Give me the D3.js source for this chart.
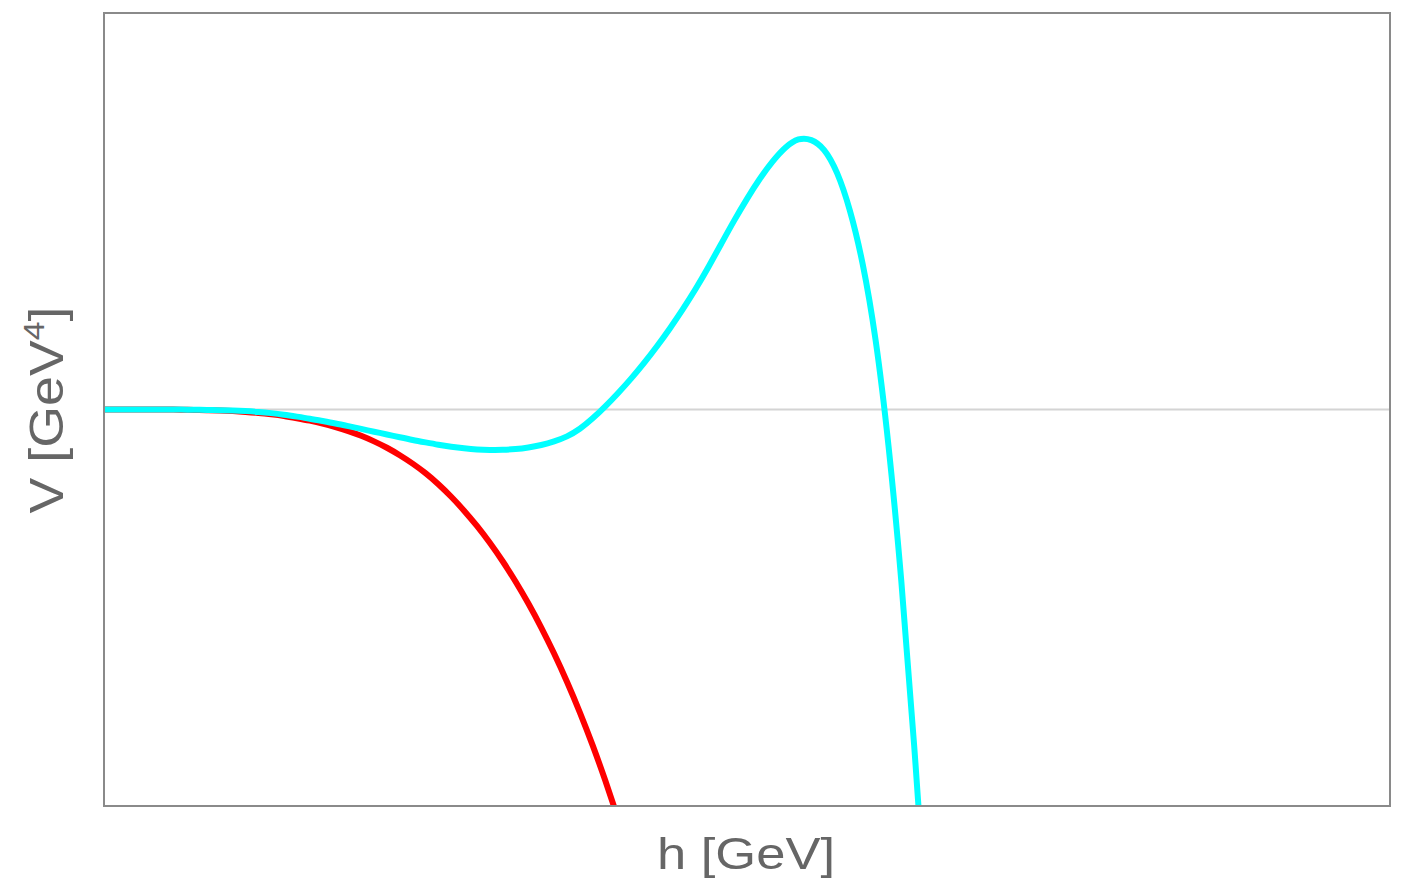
<!DOCTYPE html>
<html>
<head>
<meta charset="utf-8">
<script src="https://cdn.jsdelivr.net/npm/d3@7"></script>
<style>
  body { margin: 0; background: #fff; }
  text { font-family: "Liberation Sans", Arial, sans-serif; fill: #666; }
</style>
</head>
<body>
<svg id="chart"></svg>
<script>
const width = 1406;
const height = 888;
const margin = { left: 104, right: 16, top: 13, bottom: 82 };

// h values (arbitrary units, 0..100) and V values (arbitrary units, -100..100)
const hTree = [0, 1, 2, 3, 4, 5, 6, 7, 8, 9, 10, 11, 12, 13, 14, 15, 16, 17, 18, 19, 20,
    21, 22, 23, 24, 25, 26, 27, 28, 29, 30, 31, 32, 33, 34, 35, 36, 37, 38, 39, 40];
const vTree = [0, 0, 0, 0, 0, 0, -0.05, -0.1, -0.15, -0.25, -0.4, -0.6, -0.85, -1.2, -1.6, -2.2, -2.8, -3.5, -4.4, -5.4, -6.6,
    -8.0, -9.6, -11.5, -13.6, -16.0, -18.8, -21.95, -25.45, -29.3, -33.55, -38.2, -43.3, -48.85, -54.9, -61.45, -68.55, -76.25, -84.6, -93.65, -103.45];

const hLoop = [0, 1, 2, 3, 4, 5, 6, 7, 8, 9, 10, 11, 12, 13, 14, 15, 16, 17, 18, 19, 20,
    21, 22, 23, 24, 25, 26, 27, 28, 29, 30, 31, 32, 33, 34, 35, 36, 37, 38, 39, 40,
    41, 42, 43, 44, 45, 46, 47, 48, 49, 50, 51, 52, 53, 54, 55, 56, 57, 58, 59, 60,
    61, 62, 63, 64];
const vLoop = [0, 0, 0, 0, 0, 0, -0.02, -0.05, -0.1, -0.15, -0.25, -0.4, -0.6, -0.9, -1.3, -1.8, -2.3, -2.9, -3.5, -4.2, -4.9,
    -5.6, -6.3, -7.0, -7.7, -8.3, -8.9, -9.4, -9.8, -10.1, -10.2, -10.2, -10.0, -9.6, -9.0, -8.1, -6.9, -5.0, -2.3, 0.8, 4.2,
    7.8, 11.7, 15.9, 20.4, 25.2, 30.3, 35.9, 41.8, 47.7, 53.2, 58.3, 62.7, 66.3, 68.5, 68.3, 66.0, 60.3, 50.8, 37.5, 18.8,
    -7.8, -42.0, -84.0, -131.0];

const xLabel = "h [GeV]";
const yLabel = "V [GeV";

const svg = d3.select('svg#chart').attr('width', width).attr('height', height)
const innerW = width - margin.left - margin.right
const innerH = height - margin.top - margin.bottom

const x = d3.scaleLinear().domain([0, 100]).range([margin.left, margin.left + innerW])
const y = d3.scaleLinear().domain([-100, 100]).range([margin.top + innerH, margin.top])

svg.append('defs').append('clipPath').attr('id', 'plot-clip')
    .append('rect')
    .attr('x', margin.left).attr('y', margin.top)
    .attr('width', innerW).attr('height', innerH)

// zero line
svg.append('line')
    .attr('x1', x(0)).attr('x2', x(100))
    .attr('y1', y(0)).attr('y2', y(0))
    .attr('stroke', '#d4d4d4')
    .attr('stroke-width', 2)

const line = d3.line()
    .x(d => x(d[0]))
    .y(d => y(d[1]))
    .curve(d3.curveBasis)

const plot = svg.append('g').attr('clip-path', 'url(#plot-clip)')

plot.append('path')
    .datum(d3.zip(hTree, vTree))
    .attr('d', line)
    .attr('fill', 'none')
    .attr('stroke', '#ff0000')
    .attr('stroke-width', 6)

plot.append('path')
    .datum(d3.zip(hLoop, vLoop))
    .attr('d', line)
    .attr('fill', 'none')
    .attr('stroke', '#00ffff')
    .attr('stroke-width', 6)

// frame
svg.append('rect')
    .attr('x', margin.left).attr('y', margin.top)
    .attr('width', innerW).attr('height', innerH)
    .attr('fill', 'none')
    .attr('stroke', '#8a8a8a')
    .attr('stroke-width', 2)

// axis labels
svg.append('text')
    .attr('x', 746).attr('y', 869)
    .attr('text-anchor', 'middle')
    .attr('font-size', 45)
    .attr('textLength', 178)
    .attr('lengthAdjust', 'spacingAndGlyphs')
    .text(xLabel)

const yl = svg.append('text')
    .attr('transform', 'translate(63,410) rotate(-90) scale(1.12,1)')
    .attr('text-anchor', 'middle')
    .attr('font-size', 48)
yl.append('tspan').text(yLabel)
yl.append('tspan').attr('font-size', 30).attr('dy', -19).text('4')
yl.append('tspan').attr('dy', 19).text(']')
</script>
</body>
</html>
